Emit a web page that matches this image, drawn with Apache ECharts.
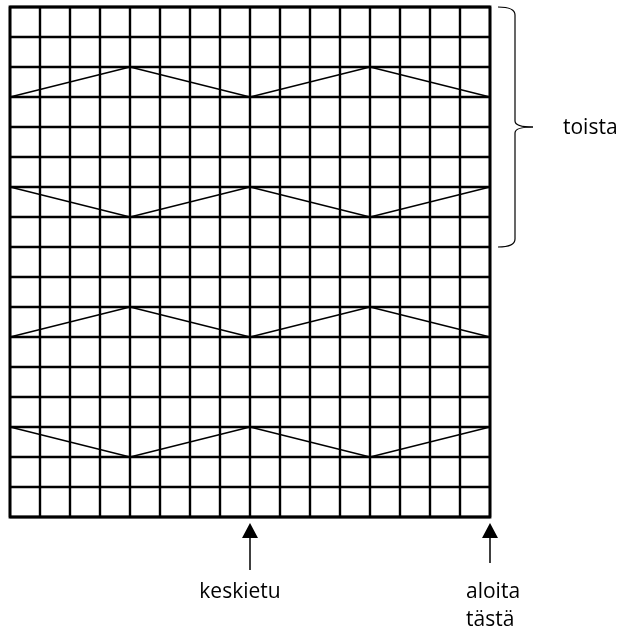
<!DOCTYPE html>
<html>
<head>
<meta charset="utf-8">
<script src="https://cdn.jsdelivr.net/npm/echarts@6/dist/echarts.min.js"></script>
<style>
html, body { margin: 0; padding: 0; background: #fff; }
#chart { width: 626px; height: 634px; }
</style>
</head>
<body>
<div id="chart"></div>
<script>
// chart size in stitches / rows
const cols = 16;
const rows = 17;

// zigzag lines, x positions shared, y = grid row line (0 = bottom)
const zigzagX = [0, 4, 8, 12, 16];
const zigzag1 = [14, 15, 14, 15, 14];
const zigzag2 = [11, 10, 11, 10, 11];
const zigzag3 = [6, 7, 6, 7, 6];
const zigzag4 = [3, 2, 3, 2, 3];

// arrows under the chart
const arrowCols = [8, 16];
const arrowLabels = ['keskietu', 'aloita\ntästä'];

// repeat brace
const repeatRows = [9, 17];
const repeatLabel = 'toista';

const font = '"Open Sans", "Noto Sans", sans-serif';

const myChart = echarts.init(document.getElementById('chart'));

function zig (ys) {
    return {
        type: 'line',
        data: zigzagX.map((x, i) => [x, ys[i]]),
        showSymbol: false,
        silent: true,
        animation: false,
        lineStyle: { color: '#000', width: 1.4 }
    };
}

const option = {
    animation: false,
    grid: {
        left: 10,
        top: 7,
        width: 480,
        height: 510,
        show: true,
        borderColor: '#000',
        borderWidth: 2.8
    },
    xAxis: {
        type: 'value',
        min: 0,
        max: cols,
        interval: 1,
        axisLine: { show: false },
        axisTick: { show: false },
        axisLabel: { show: false },
        splitLine: { show: true, lineStyle: { color: '#000', width: 2.4 } }
    },
    yAxis: {
        type: 'value',
        min: 0,
        max: rows,
        interval: 1,
        axisLine: { show: false },
        axisTick: { show: false },
        axisLabel: { show: false },
        splitLine: { show: true, lineStyle: { color: '#000', width: 2.4 } }
    },
    series: [zig(zigzag1), zig(zigzag2), zig(zigzag3), zig(zigzag4)]
};
myChart.setOption(option);

// annotations: arrows, labels, brace
const graphics = [];
arrowCols.forEach(function (c, i) {
    const p = myChart.convertToPixel({ gridIndex: 0 }, [c, 0]);
    const x = p[0], y = p[1];
    const len = i === 0 ? 53 : 46;
    graphics.push({
        type: 'polygon',
        shape: { points: [[x, y + 6], [x - 8, y + 21], [x + 8, y + 21]] },
        style: { fill: '#000' }
    });
    graphics.push({
        type: 'line',
        shape: { x1: x, y1: y + 20, x2: x, y2: y + len },
        style: { stroke: '#000', lineWidth: 1.5 }
    });
    graphics.push({
        type: 'text',
        x: i === 0 ? x - 10 : x - 24,
        y: y + 61,
        style: {
            text: arrowLabels[i],
            font: '21px ' + font,
            fill: '#000',
            align: i === 0 ? 'center' : 'left',
            verticalAlign: 'top',
            lineHeight: 28
        }
    });
});

const braceTop = myChart.convertToPixel({ gridIndex: 0 }, [cols, repeatRows[1]]);
const braceBot = myChart.convertToPixel({ gridIndex: 0 }, [cols, repeatRows[0]]);
const x0 = braceTop[0] + 8, x1 = braceTop[0] + 25, xt = braceTop[0] + 43;
const y0 = braceTop[1], y1 = braceBot[1], ym = (y0 + y1) / 2;
const braceStyle = { fill: null, stroke: '#000', lineWidth: 1.2 };
[
    [x0, y0, x1, y0 + 8, x1, y0],
    [x1, ym - 6, xt, ym, x1, ym],
    [xt, ym, x1, ym + 6, x1, ym],
    [x1, y1 - 8, x0, y1, x1, y1]
].forEach(function (b) {
    graphics.push({
        type: 'bezierCurve',
        shape: { x1: b[0], y1: b[1], x2: b[2], y2: b[3], cpx1: b[4], cpy1: b[5] },
        style: braceStyle
    });
});
graphics.push({
    type: 'line',
    shape: { x1: x1, y1: y0 + 8, x2: x1, y2: ym - 6 },
    style: braceStyle
});
graphics.push({
    type: 'line',
    shape: { x1: x1, y1: ym + 6, x2: x1, y2: y1 - 8 },
    style: braceStyle
});
graphics.push({
    type: 'text',
    x: 563,
    y: ym + 1,
    style: {
        text: repeatLabel,
        font: '21px ' + font,
        fill: '#000',
        align: 'left',
        verticalAlign: 'middle'
    }
});
myChart.setOption({ graphic: graphics });

window.addEventListener('resize', function () {
    myChart.resize();
});
</script>
</body>
</html>
